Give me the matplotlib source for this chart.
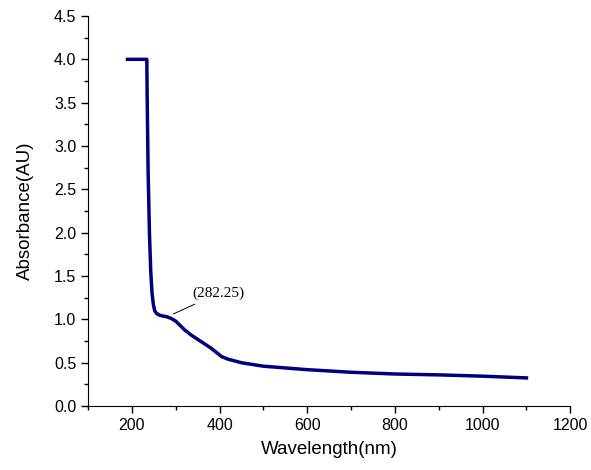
import numpy as np
import matplotlib.pyplot as plt
from matplotlib.ticker import MultipleLocator

plt.rcParams['font.family'] = ['Liberation Sans', 'DejaVu Sans']

# absorbance spectrum
wavelength = [190, 200, 215, 230, 234, 235, 237, 240, 243, 246, 249, 252, 256, 262,
              270, 280, 290, 300, 310, 320, 335, 350, 365, 380, 395, 405, 420,
              450, 500, 550, 600, 700, 800, 900, 1000, 1100]
absorbance = [4.0, 4.0, 4.0, 4.0, 4.0, 3.5, 2.7, 2.0, 1.55, 1.3, 1.17, 1.1, 1.07, 1.05,
              1.04, 1.03, 1.01, 0.98, 0.93, 0.88, 0.82, 0.77, 0.72, 0.67, 0.61, 0.57, 0.54,
              0.5, 0.46, 0.44, 0.42, 0.39, 0.37, 0.36, 0.345, 0.325]

fig = plt.figure(figsize=(5.91, 4.70), dpi=100)
ax = fig.add_axes([0.149, 0.136, 0.816, 0.830])
ax.plot(wavelength, absorbance, color='#00007f', lw=2.5)

ax.annotate('(282.25)', xy=(289, 1.05), xytext=(337, 1.22),
            fontsize=11, family='Liberation Serif', va='bottom',
            arrowprops=dict(arrowstyle='-', color='black', lw=0.7))

ax.set_xlim(100, 1200)
ax.set_ylim(0, 4.5)
ax.xaxis.set_major_locator(MultipleLocator(200))
ax.xaxis.set_minor_locator(MultipleLocator(100))
ax.yaxis.set_major_locator(MultipleLocator(0.5))
ax.yaxis.set_minor_locator(MultipleLocator(0.25))
ax.yaxis.set_major_formatter(plt.FormatStrFormatter('%.1f'))
ax.tick_params(which='major', direction='out', length=5, width=1, labelsize=11.5)
ax.tick_params(which='minor', direction='out', length=3, width=1)
for s in ['top', 'right']:
    ax.spines[s].set_visible(False)
ax.set_xlabel('Wavelength(nm)', fontsize=13.5, labelpad=6)
ax.set_ylabel('Absorbance(AU)', fontsize=13.5, labelpad=14)

fig.savefig('out.png', dpi=100)
